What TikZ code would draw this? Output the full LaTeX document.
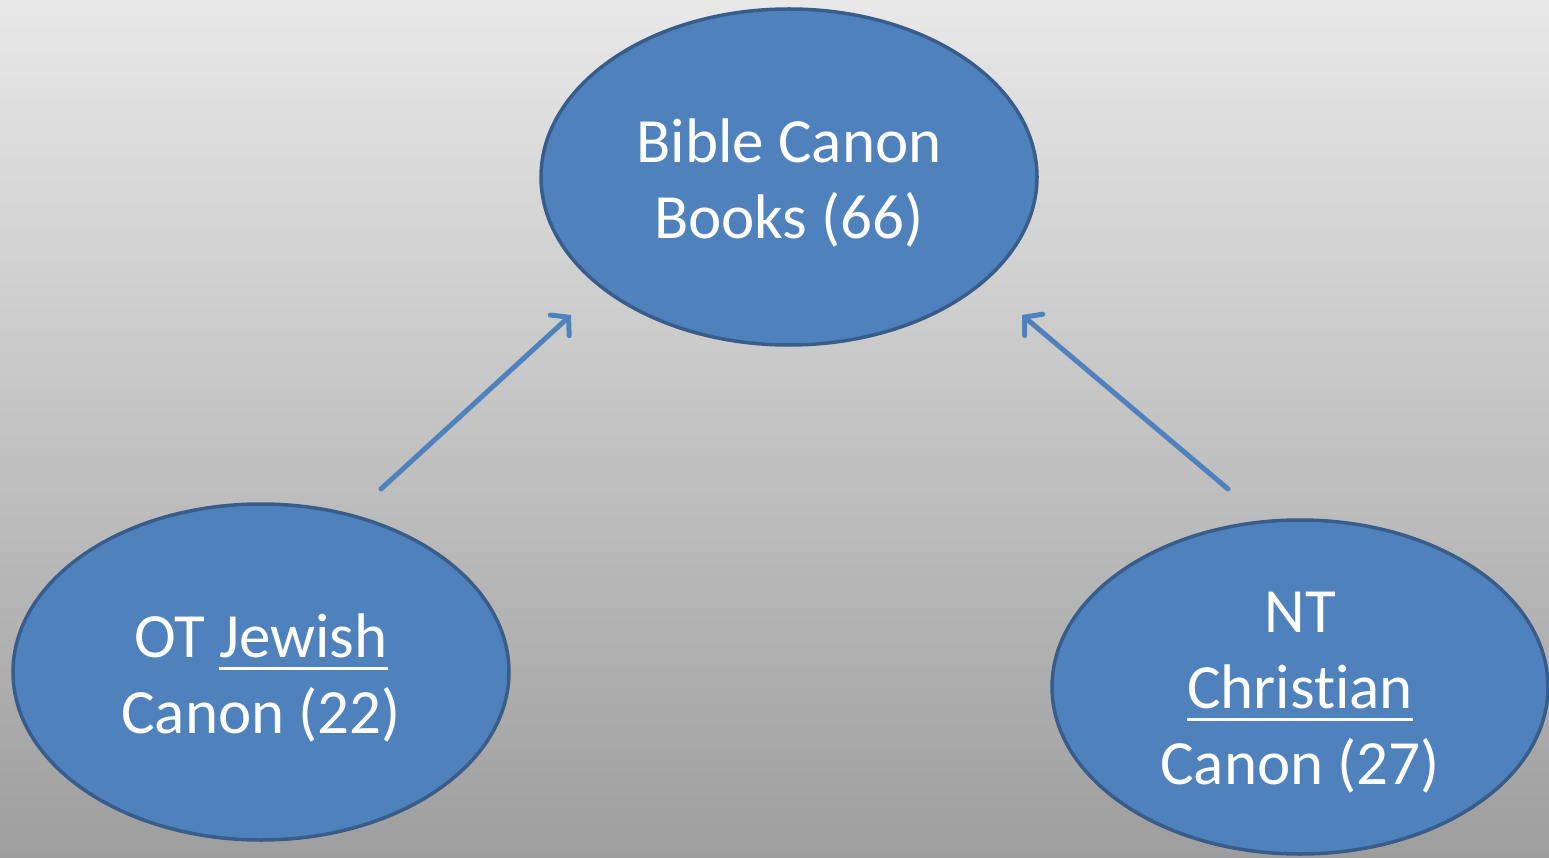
\documentclass[tikz,border=0pt]{standalone}
\usepackage{fontspec}
\setmainfont{Carlito}[Ligatures=NoCommon]
\usetikzlibrary{shapes.geometric,arrows.meta}
\definecolor{blfill}{HTML}{4F81BD}
\definecolor{bldraw}{HTML}{385D8A}
\definecolor{bgtop}{RGB}{232,232,232}
\definecolor{bgbot}{RGB}{158,158,158}
\newcommand\myul[1]{\vtop{\hbox{\raisebox{0pt}[\height][0pt]{#1}}\kern9pt\hrule height 3.5pt}}
\tikzset{
  bubble/.style={ellipse, fill=blfill, draw=bldraw, line width=3.5pt,
    minimum width=496pt, minimum height=336pt, inner sep=0pt},
  btext/.style={text=white, align=center, inner sep=0pt, yshift=-6pt,
    font=\fontsize{63}{76}\selectfont},
  conn/.style={draw=blfill, line width=5pt, line cap=round,
    -{Straight Barb[length=12pt,width=28pt,line cap=round]}}
}
\begin{document}
\begin{tikzpicture}[x=1pt,y=-1pt]
\useasboundingbox (0,0) rectangle (1549,858);
\shade[top color=bgtop, bottom color=bgbot] (0,0) rectangle (1549,858);
\node[bubble] (top) at (789,177) {};
\node[bubble] (ot) at (261,672) {};
\node[bubble, minimum height=334pt] (nt) at (1300,687) {};
\node[btext] (toptxt) at (top.center) {Bible Canon\\Books (66)};
\node[btext] (ottxt) at (ot.center) {OT \myul{Jewish}\\Canon (22)};
\node[btext] (nttxt) at (nt.center) {NT\\\myul{Christian}\\Canon (27)};
\coordinate (a1s) at (381,489);
\coordinate (a1e) at (571,315);
\coordinate (a2s) at (1228,489);
\coordinate (a2e) at (1022,315);
\draw[conn] (a1s) -- (a1e);
\draw[conn] (a2s) -- (a2e);
\end{tikzpicture}
\end{document}
